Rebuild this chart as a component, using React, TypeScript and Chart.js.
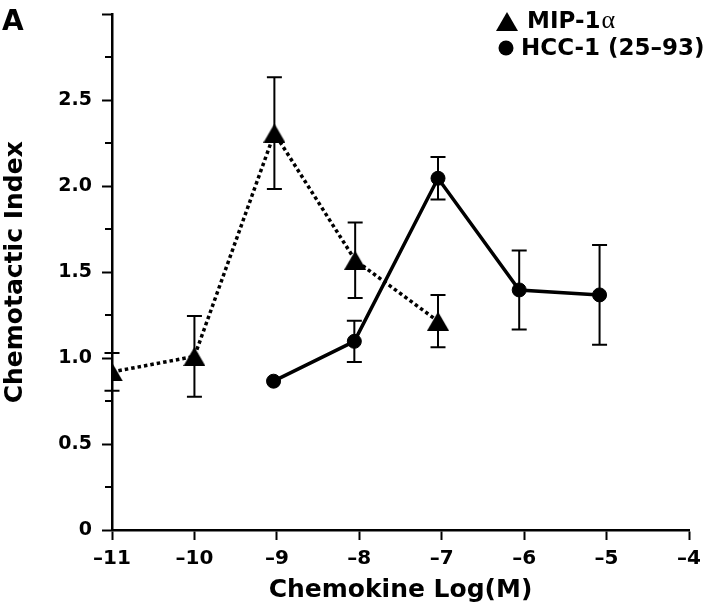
import React, { useEffect, useRef } from 'react';
import { Chart, registerables } from 'chart.js';

Chart.register(...registerables);

// ---- Data ----
const mipLabel = 'MIP-1';
const mipGreek = 'α';
const hccLabel = 'HCC-1 (25–93)';
const mipX = [-11, -10, -9.03, -8.05, -7.045];
const mipY = [0.92, 1.01, 2.31, 1.57, 1.215];
const mipErr = [0.11, 0.235, 0.325, 0.22, 0.152];
const hccX = [-9.04, -8.06, -7.045, -6.06, -5.085];
const hccY = [0.866, 1.098, 2.047, 1.397, 1.368];
const hccErr = [0, 0.12, 0.124, 0.23, 0.29];
const xMin = -11;
const xMax = -4;
const yMin = 0;
const yMax = 3;
const yMinorStep = 0.25;
const xTitle = 'Chemokine Log(M)';
const yTitle = 'Chemotactic Index';
const panelLabel = 'A';

const FONT = '"DejaVu Sans", "Liberation Sans", Arial, sans-serif';

function makeTriangle(w: number, h: number): HTMLCanvasElement {
  const c = document.createElement('canvas');
  c.width = w;
  c.height = h;
  const g = c.getContext('2d')!;
  g.fillStyle = '#000';
  g.beginPath();
  g.moveTo(w / 2, 0);
  g.lineTo(w, h);
  g.lineTo(0, h);
  g.closePath();
  g.fill();
  return c;
}

export default function App() {
  const ref = useRef<HTMLCanvasElement | null>(null);

  useEffect(() => {
    if (!ref.current) return;
    const tri = makeTriangle(22, 19);

    const errorBars = {
      id: 'errorBars',
      beforeDatasetsDraw(chart: any) {
        const { ctx, scales } = chart;
        const x = scales.x;
        const y = scales.y;
        ctx.save();
        ctx.strokeStyle = '#000';
        ctx.lineWidth = 2;
        const sets: [number[], number[], number[]][] = [
          [mipX, mipY, mipErr],
          [hccX, hccY, hccErr],
        ];
        for (const [xs, ys, es] of sets) {
          for (let i = 0; i < xs.length; i++) {
            const e = es[i];
            if (!e) continue;
            const px = x.getPixelForValue(xs[i]);
            const pt = y.getPixelForValue(ys[i] + e);
            const pb = y.getPixelForValue(ys[i] - e);
            ctx.beginPath();
            ctx.moveTo(px, pt);
            ctx.lineTo(px, pb);
            ctx.moveTo(px - 7.5, pt);
            ctx.lineTo(px + 7.5, pt);
            ctx.moveTo(px - 7.5, pb);
            ctx.lineTo(px + 7.5, pb);
            ctx.stroke();
          }
        }
        ctx.restore();
      },
    };

    const minorTicks = {
      id: 'minorTicks',
      afterDraw(chart: any) {
        const { ctx, scales, chartArea } = chart;
        const y = scales.y;
        ctx.save();
        ctx.strokeStyle = '#000';
        ctx.lineWidth = 2;
        for (let v = yMin + yMinorStep; v < yMax; v += 2 * yMinorStep) {
          const py = Math.round(y.getPixelForValue(v));
          ctx.beginPath();
          ctx.moveTo(chartArea.left - 7, py);
          ctx.lineTo(chartArea.left, py);
          ctx.stroke();
        }
        ctx.restore();
      },
    };

    const legendAndLabel = {
      id: 'legendAndLabel',
      afterDraw(chart: any) {
        const { ctx } = chart;
        ctx.save();
        ctx.fillStyle = '#000';
        ctx.textBaseline = 'alphabetic';
        ctx.textAlign = 'left';
        // panel label
        ctx.font = `bold 28px ${FONT}`;
        ctx.fillText(panelLabel, 2, 30);
        // legend row 1
        ctx.drawImage(tri, 507 - 11, 21.5 - 9.5);
        ctx.font = `bold 23px ${FONT}`;
        ctx.fillText(mipLabel, 527, 28);
        const w = ctx.measureText(mipLabel).width;
        ctx.font = `26px "Liberation Serif", "DejaVu Serif", serif`;
        ctx.fillText(mipGreek, 527 + w + 1, 28);
        // legend row 2
        ctx.beginPath();
        ctx.arc(506, 48, 7.5, 0, Math.PI * 2);
        ctx.fill();
        ctx.font = `bold 23px ${FONT}`;
        ctx.fillText(hccLabel, 521, 55);
        ctx.restore();
      },
    };

    const chart = new Chart(ref.current, {
      type: 'line',
      data: {
        datasets: [
          {
            label: mipLabel + mipGreek,
            data: mipX.map((x, i) => ({ x, y: mipY[i] })),
            borderColor: '#000',
            backgroundColor: '#000',
            borderWidth: 3.5,
            borderDash: [3.5, 3],
            borderCapStyle: 'butt',
            pointStyle: tri as any,
            pointRadius: 11,
            tension: 0,
            fill: false,
          },
          {
            label: hccLabel,
            data: hccX.map((x, i) => ({ x, y: hccY[i] })),
            borderColor: '#000',
            backgroundColor: '#000',
            borderWidth: 3.5,
            pointStyle: 'circle',
            pointRadius: 7,
            pointBorderWidth: 1,
            pointBackgroundColor: '#000',
            pointBorderColor: '#000',
            tension: 0,
            fill: false,
          },
        ],
      },
      options: {
        responsive: false,
        animation: false,
        events: [],
        layout: { padding: { left: 0, top: 10, right: 31, bottom: 0 } },
        plugins: {
          legend: { display: false },
          tooltip: { enabled: false },
        },
        scales: {
          x: {
            type: 'linear',
            min: xMin,
            max: xMax,
            ticks: {
              stepSize: 1,
              color: '#000',
              font: { family: FONT, size: 20, weight: 'bold' },
              padding: 7,
              maxRotation: 0,
              callback: (v: any) => (v < 0 ? '\u2013' + Math.abs(v) : String(v)),
            },
            grid: {
              display: true,
              drawOnChartArea: false,
              drawTicks: true,
              tickLength: 10,
              tickWidth: 2,
              tickColor: '#000',
            },
            border: { display: true, color: '#000', width: 2.5 },
            title: {
              display: true,
              text: xTitle,
              color: '#000',
              font: { family: FONT, size: 25, weight: 'bold', lineHeight: 1.2 },
              padding: { top: 0, bottom: 3 },
            },
            afterFit: (s: any) => {
              s.height = 78;
              s.paddingLeft = 0;
              s.paddingRight = 0;
            },
          },
          y: {
            type: 'linear',
            min: yMin,
            max: yMax,
            ticks: {
              stepSize: 0.5,
              color: '#000',
              font: { family: FONT, size: 19, weight: 'bold' },
              padding: 10,
              callback: (v: any) => (v === yMax ? '' : v === 0 ? '0' : Number(v).toFixed(1)),
            },
            grid: {
              display: true,
              drawOnChartArea: false,
              drawTicks: true,
              tickLength: 10,
              tickWidth: 2,
              tickColor: '#000',
            },
            border: { display: true, color: '#000', width: 2.5 },
            title: {
              display: true,
              text: yTitle,
              color: '#000',
              font: { family: FONT, size: 25, weight: 'bold', lineHeight: 1.2 },
              padding: { top: 0, bottom: 0 },
            },
            afterFit: (s: any) => {
              s.width = 112;
              s.paddingTop = 0;
              s.paddingBottom = 0;
            },
          },
        },
      },
      plugins: [errorBars, minorTicks, legendAndLabel],
    } as any);

    return () => chart.destroy();
  }, []);

  return (
    <div style={{ position: 'absolute', left: 0, top: 0, width: 720, height: 608, background: '#fff' }}>
      <canvas ref={ref} width={720} height={608} style={{ display: 'block' }} />
    </div>
  );
}
